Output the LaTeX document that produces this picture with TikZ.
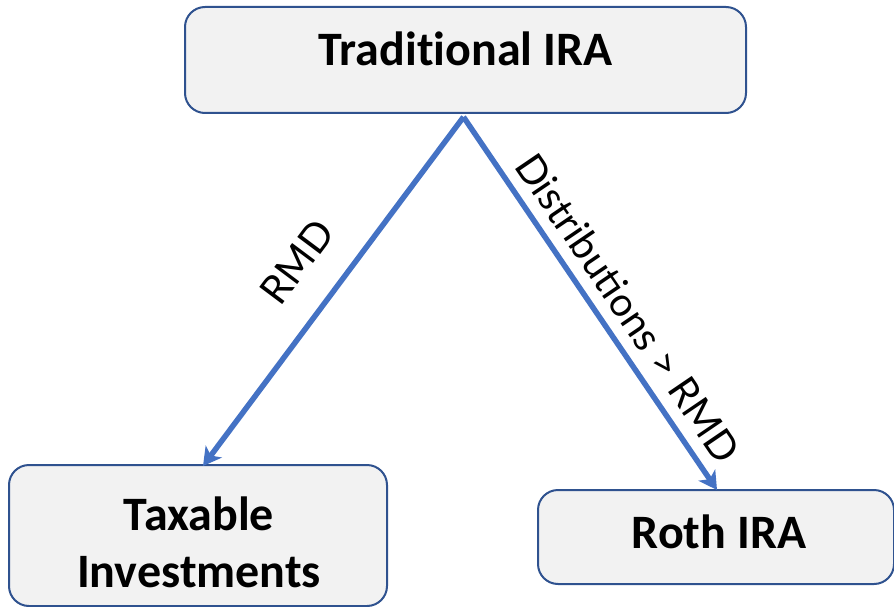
\documentclass[tikz,border=0pt]{standalone}
\usepackage{fontspec}
\setmainfont{Carlito}[Ligatures=NoCommon]
\newfontfamily\labelfont{Lato}
\usetikzlibrary{arrows.meta}
\definecolor{boxfill}{HTML}{F2F2F2}
\definecolor{boxline}{HTML}{2F528F}
\definecolor{arrblue}{HTML}{4472C4}
\tikzset{
  box/.style={draw=boxline, line width=2pt, fill=boxfill, rounded corners=20pt, inner sep=0pt},
  boxtext/.style={font=\bfseries\fontsize{48}{57}\selectfont, align=center, anchor=base, inner sep=0pt},
  arr/.style={draw=arrblue, line width=5.5pt, -{Stealth[length=18pt,width=20pt,inset=5pt]}},
  lbl/.style={font=\labelfont\fontsize{40}{48}\selectfont, inner sep=0pt}
}
\begin{document}
\begin{tikzpicture}[x=1pt,y=-1pt]
\useasboundingbox (0,0) rectangle (894,607);
\node[box, minimum width=561pt, minimum height=106pt] (trad) at (465.5,60) {};
\node[boxtext] (tradtext) at (465.5,66) {Traditional IRA};
\node[box, minimum width=378pt, minimum height=141pt] (tax) at (198,535.5) {};
\node[boxtext] (taxtext) at (199,587) {Taxable\\Investments};
\node[box, minimum width=356pt, minimum height=94pt] (roth) at (716,537) {};
\node[boxtext] (rothtext) at (719,548) {Roth IRA};
\draw[arr] ([xshift=-2pt,yshift=-3pt]trad.south) -- ([xshift=5pt,yshift=-2pt]tax.north);
\draw[arr] ([xshift=-2pt,yshift=-3pt]trad.south) -- ([xshift=1pt,yshift=-1pt]roth.north);
\node[lbl, rotate=53.2] (rmd) at (297,262) {RMD};
\node[lbl, rotate=-55.75] (dist) at (628,308) {Distributions > RMD};
\end{tikzpicture}
\end{document}
